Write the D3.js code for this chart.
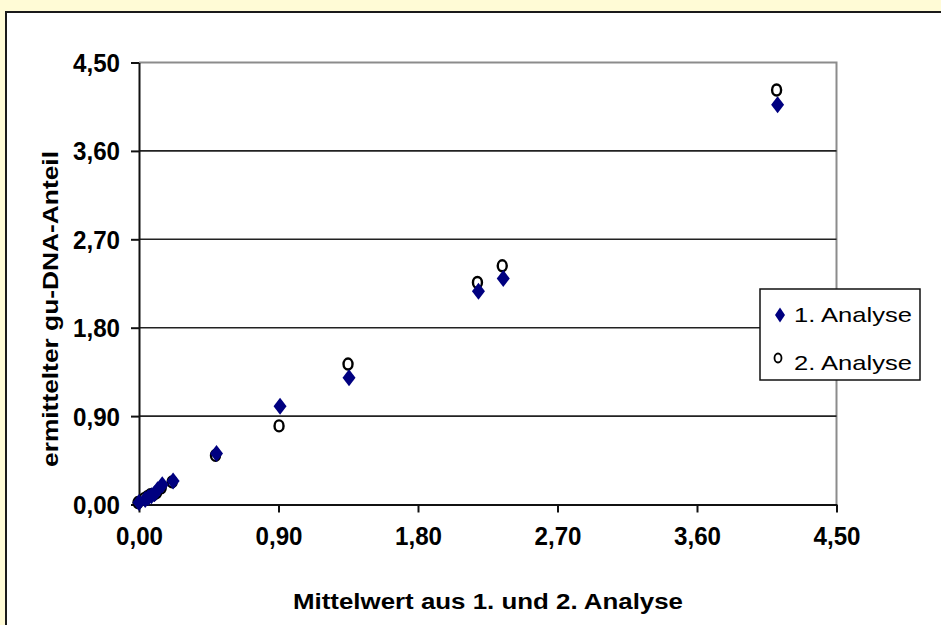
<!DOCTYPE html>
<html><head><meta charset="utf-8">
<script src="https://cdn.jsdelivr.net/npm/d3@7"></script>
<style>
html,body{margin:0;padding:0;background:#fffbd6;}
svg{display:block;}
</style></head>
<body>
<svg id="chart" width="941" height="625"></svg>
<script>
// ---- data ----
const meanValues = [4.12, 2.35, 2.19, 1.355, 0.91, 0.50, 0.22, 0.15, 0.12, 0.10, 0.08, 0.06, 0.04, 0.00];
const analyse1   = [4.07, 2.30, 2.17, 1.29, 1.00, 0.52, 0.24, 0.20, 0.15, 0.11, 0.09, 0.07, 0.05, 0.02];
const analyse2   = [4.22, 2.43, 2.26, 1.43, 0.80, 0.50, 0.23, 0.17, 0.12, 0.10, 0.10, 0.08, 0.06, 0.02];
const tickValues = [0, 0.9, 1.8, 2.7, 3.6, 4.5];
const tickLabels = ["0,00", "0,90", "1,80", "2,70", "3,60", "4,50"];
const seriesNames = ["1. Analyse", "2. Analyse"];
const xTitle = "Mittelwert aus 1. und 2. Analyse";
const yTitle = "ermittelter gu-DNA-Anteil";

const svg = d3.select("#chart");
const L = 139, R = 836.5, T = 62.5, B = 504.5;
const x = d3.scaleLinear().domain([0, 4.5]).range([L, R]);
const y = d3.scaleLinear().domain([0, 4.5]).range([B, T]);

// panel
svg.append("rect").attr("x", 6).attr("y", 12).attr("width", 960).attr("height", 640)
  .attr("fill", "#fff").attr("stroke", "#1a1a1a").attr("stroke-width", 2);

// plot frame top/right (gray)
svg.append("path").attr("d", `M${L},${T}H${R}V${B}`).attr("fill", "none")
  .attr("stroke", "#8c8c8c").attr("stroke-width", 2);

// gridlines
svg.append("g").selectAll("line").data(tickValues.filter(v => v > 0 && v < 4.5)).join("line")
  .attr("x1", L).attr("x2", R).attr("y1", d => y(d)).attr("y2", d => y(d))
  .attr("stroke", "#222").attr("stroke-width", 1.6);

// axes
const fontBold = "'Liberation Sans', Arial, sans-serif";
const yAxis = svg.append("g").attr("transform", `translate(${L},0)`)
  .call(d3.axisLeft(y).tickValues(tickValues).tickFormat((d, i) => tickLabels[i]).tickSize(8).tickSizeOuter(0).tickPadding(11));
const xAxis = svg.append("g").attr("transform", `translate(0,${B})`)
  .call(d3.axisBottom(x).tickValues(tickValues).tickFormat((d, i) => tickLabels[i]).tickSize(8).tickSizeOuter(0).tickPadding(27));
[yAxis, xAxis].forEach(a => {
  a.select(".domain").attr("stroke", "#111").attr("stroke-width", 2);
  a.selectAll(".tick line").attr("stroke", "#111").attr("stroke-width", 2);
  a.selectAll(".tick text").attr("fill", "#000").style("font-family", fontBold)
    .style("font-weight", "bold").style("font-size", "25px").attr("lengthAdjust", "spacingAndGlyphs").attr("textLength", 47);
});
yAxis.selectAll(".tick text").attr("dy", "0.36em");
xAxis.selectAll(".tick text").attr("dy", "0.2em");

// titles
svg.append("text").attr("x", 488).attr("y", 609).attr("text-anchor", "middle")
  .style("font-family", fontBold).style("font-weight", "bold").style("font-size", "22px")
  .attr("textLength", 390).attr("lengthAdjust", "spacingAndGlyphs").text(xTitle);
svg.append("text").attr("transform", "translate(58,309) rotate(-90)").attr("text-anchor", "middle")
  .style("font-family", fontBold).style("font-weight", "bold").style("font-size", "22px")
  .attr("textLength", 316).attr("lengthAdjust", "spacingAndGlyphs").text(yTitle);

// markers
const diamond = (cx, cy, w, h) => `M${cx},${cy - h}L${cx + w},${cy}L${cx},${cy + h}L${cx - w},${cy}Z`;
const pts1 = meanValues.map((m, i) => [m, analyse1[i]]);
const pts2 = meanValues.map((m, i) => [m, analyse2[i]]);

svg.append("g").selectAll("ellipse").data(pts2).join("ellipse")
  .attr("cx", d => x(d[0]) - 1).attr("cy", d => y(d[1])).attr("rx", 4.5).attr("ry", 5.5)
  .attr("fill", "#fff").attr("stroke", "#000").attr("stroke-width", 2.4);
svg.append("g").selectAll("path").data(pts1).join("path")
  .attr("d", d => diamond(x(d[0]), y(d[1]), 6.5, 8.5)).attr("fill", "#000080");

// legend
const lg = svg.append("g");
lg.append("rect").attr("x", 760).attr("y", 289).attr("width", 160).attr("height", 91)
  .attr("fill", "#fff").attr("stroke", "#111").attr("stroke-width", 1.5);
lg.append("path").attr("d", diamond(780, 315, 5, 7.5)).attr("fill", "#000080");
lg.append("ellipse").attr("cx", 778).attr("cy", 358).attr("rx", 3.5).attr("ry", 4.5)
  .attr("fill", "#fff").attr("stroke", "#000").attr("stroke-width", 1.8);
lg.selectAll("text").data(seriesNames).join("text")
  .attr("x", 794).attr("y", (d, i) => 322 + i * 48)
  .style("font-family", fontBold).style("font-size", "21px")
  .attr("textLength", 118).attr("lengthAdjust", "spacingAndGlyphs").text(d => d);
</script>
</body></html>
